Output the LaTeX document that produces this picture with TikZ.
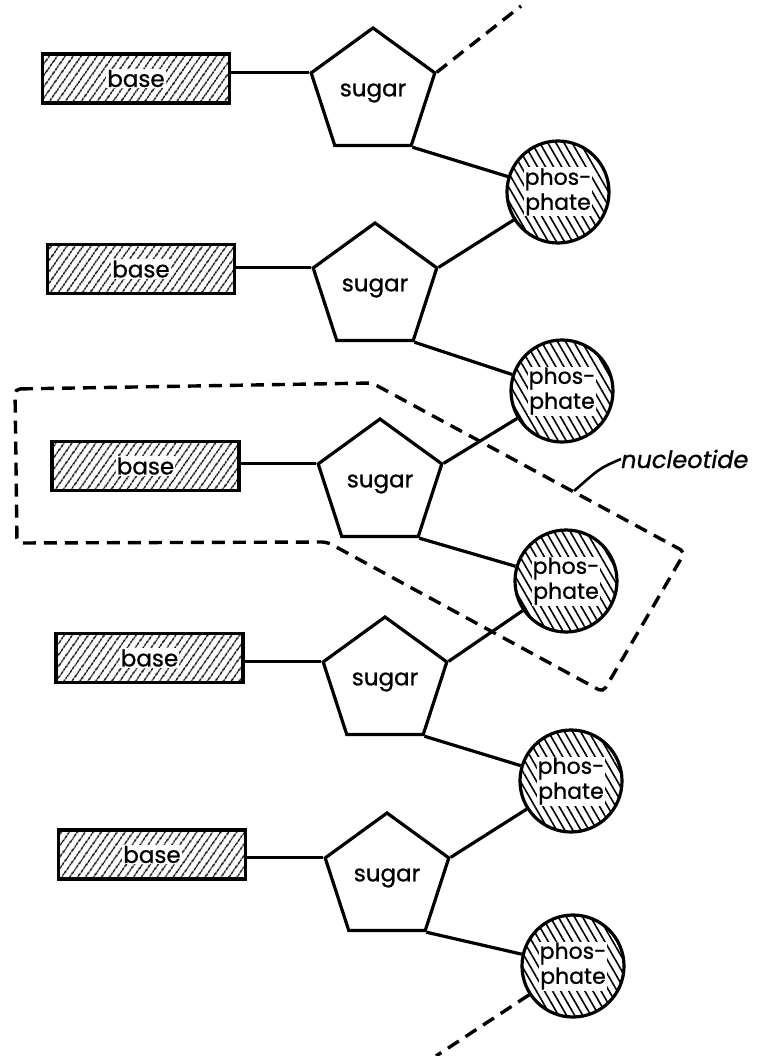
\documentclass[tikz,border=0pt]{standalone}
\usepackage{fontspec}
\setmainfont{Poppins}
\newfontfamily\lblfont{Poppins}[FakeBold=0.9]
\usetikzlibrary{shapes.geometric,patterns.meta}
\tikzset{
  basebox/.style={draw, rectangle, line width=3.2pt, minimum width=187pt, minimum height=49pt, inner sep=0pt,
    pattern={Lines[angle=55,distance=6.5pt,line width=1.6pt]}},
  basetext/.style={fill=white, inner sep=1pt, font=\lblfont\fontsize{23}{26}\selectfont},
  sugarbox/.style={draw, regular polygon, regular polygon sides=5, minimum size=130pt, inner sep=0pt,
    line width=3.2pt, font=\lblfont\fontsize{23}{26}\selectfont},
  phosbox/.style={draw, circle, minimum size=102pt, inner sep=0pt, line width=3.2pt,
    pattern={Lines[angle=-60,distance=7pt,line width=1.6pt]}},
  phostext/.style={fill=white, inner sep=1pt, align=center, font=\lblfont\fontsize{22}{25}\selectfont},
  link/.style={line width=3.2pt},
  dashline/.style={line width=3.4pt, dash pattern=on 13pt off 8pt},
}
\begin{document}
\begin{tikzpicture}[x=1pt,y=-1pt]
\useasboundingbox (0,0) rectangle (766,1056);
\foreach \i/\bx/\by/\sx/\sy/\px/\py in {1/136/78.5/373/93/558/192, 2/141/269/375/288/562/391, 3/145.5/466/380/484/566/581, 4/149.5/658/385/682/571/781, 5/152/854.5/387/878/573/966} {
  \node[basebox] (b\i) at (\bx,\by) {};
  \node[basetext] (bt\i) at (b\i) {base};
  \node[sugarbox] (s\i) at (\sx,\sy) {sugar};
  \node[phosbox] (p\i) at (\px,\py) {};
  \node[phostext] (pt\i) at (p\i) {phos-\\phate};
}
\foreach \i in {1,...,5} {
  \draw[link] (s\i.corner 2 -| b\i.east) -- (s\i.corner 2);
  \draw[link] (s\i.corner 4) -- (p\i);
}
\foreach \i/\j in {2/1,3/2,4/3,5/4} {
  \draw[link] (s\i.corner 5) -- (p\j);
}
\coordinate (topend) at (521,6);
\coordinate (botend) at (436,1056);
\draw[dashline] (s1.corner 5) -- (topend);
\draw[dashline] (p5) -- (botend);
% nucleotide box
\draw[dashline, rounded corners=5pt] (15,389) -- (372,383) -- (685,552) -- (603,692) -- (327,542) -- (17,543) -- cycle;
\node[font=\lblfont\itshape\fontsize{24}{27}\selectfont, anchor=west, inner sep=0pt] (nl) at (621,459) {nucleotide};
\coordinate (nlend) at (574,491);
\draw[line width=2.6pt] (nl.west) .. controls (600,468) .. (nlend);
\end{tikzpicture}
\end{document}
